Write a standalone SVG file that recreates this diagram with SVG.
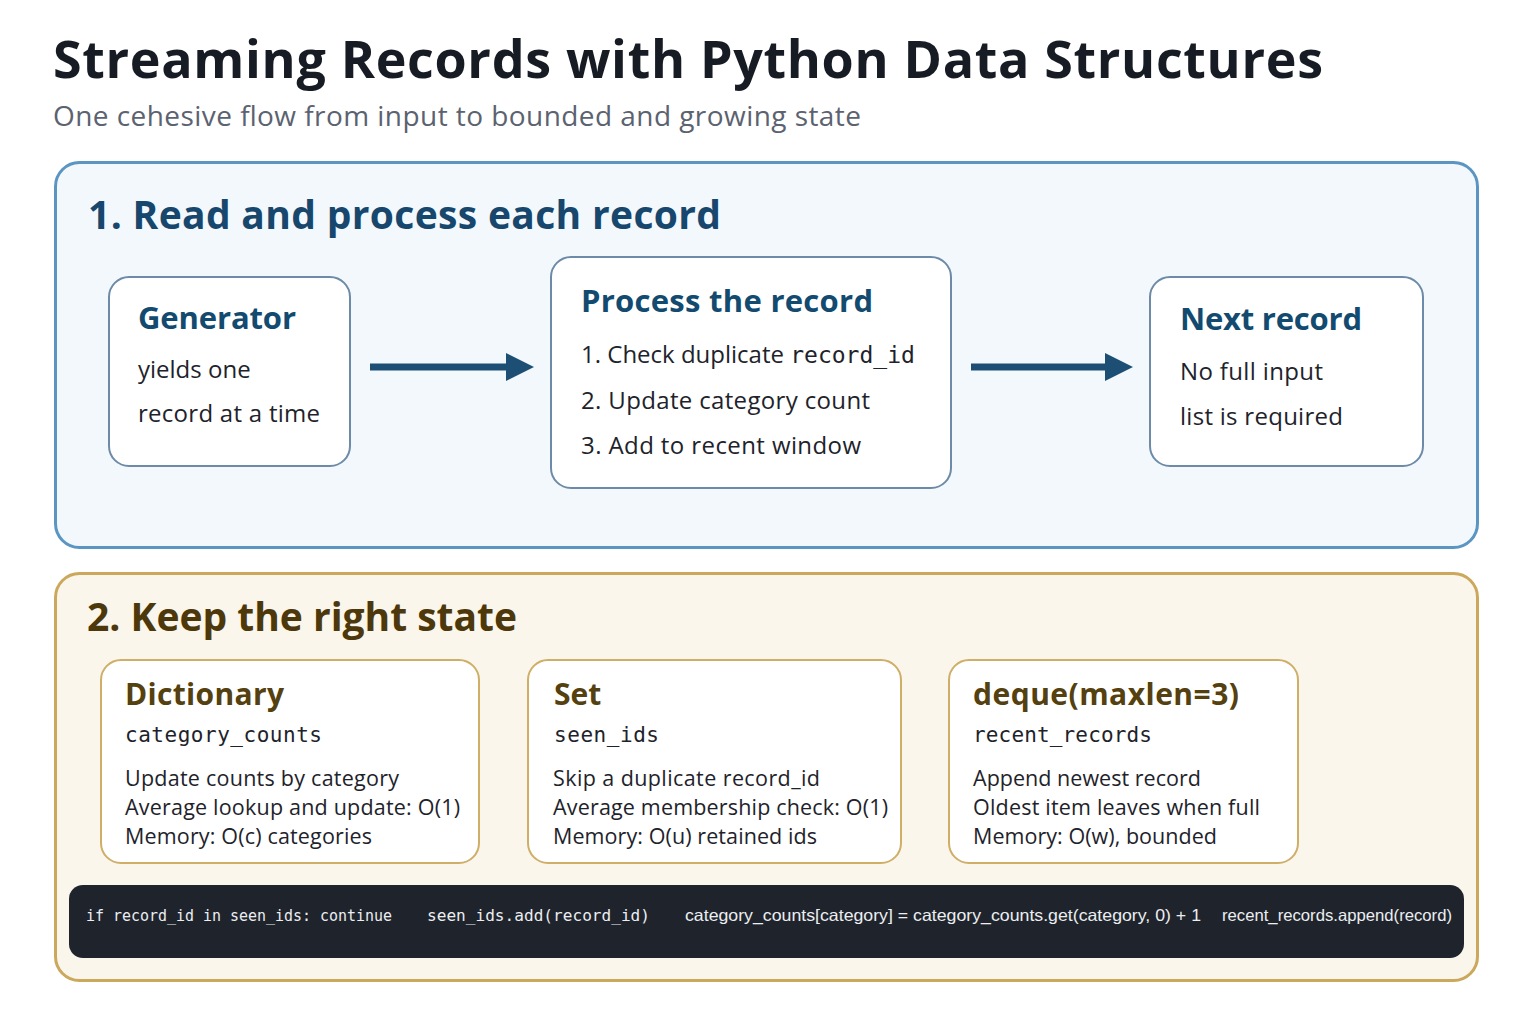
<svg xmlns="http://www.w3.org/2000/svg" width="1536" height="1024" viewBox="0 0 1536 1024">
<defs>
<style>
.sans{font-family:"Open Sans","Noto Sans","DejaVu Sans",sans-serif}
.mono{font-family:"DejaVu Sans Mono","Liberation Mono",monospace}
.cond{font-family:"Liberation Sans","Arial",sans-serif}
.title{font-size:52px;font-weight:700;fill:#161b24}
.sub{font-size:28px;fill:#5b6270}
.panel1{fill:#f2f8fb;stroke:#5b96c3;stroke-width:3}
.panel2{fill:#faf6ec;stroke:#cba85c;stroke-width:3}
.h1{font-size:39px;font-weight:700;fill:#17476d}
.h2{font-size:39px;font-weight:700;fill:#4d380b}
.box1{fill:#ffffff;stroke:#6d8ba8;stroke-width:2}
.box2{fill:#ffffff;stroke:#cfae68;stroke-width:2}
.bt1{font-size:31px;font-weight:700;fill:#124a70}
.bt2{font-size:30px;font-weight:700;fill:#55400f}
.body{font-size:24px;fill:#1e232b}
.small{font-size:21.5px;fill:#1e232b}
.code{font-size:21px;fill:#1e232b}
.code2{font-size:23px}
.bar{fill:#1f242c}
.ct{font-size:16.5px;fill:#eceef1}
</style>
</defs>
<rect width="1536" height="1024" fill="#ffffff"/>
<text class="sans title" x="53" y="78" textLength="1270">Streaming Records with Python Data Structures</text>
<text class="sans sub" x="53" y="126" textLength="808">One cehesive flow from input to bounded and growing state</text>

<g id="panel-read">
<rect class="panel1" x="55.5" y="162.5" width="1422" height="385" rx="24"/>
<text class="sans h1" x="88" y="229" textLength="633">1. Read and process each record</text>
</g>

<g id="node-generator">
<rect class="box1" x="109" y="277" width="241" height="189" rx="20"/>
<text class="sans bt1" x="138" y="329" textLength="158">Generator</text>
<text class="sans body" x="138" y="378">yields one</text>
<text class="sans body" x="138" y="422" textLength="182">record at a time</text>
</g>

<g id="node-process">
<rect class="box1" x="551" y="257" width="400" height="231" rx="20"/>
<text class="sans bt1" x="581" y="312" textLength="292">Process the record</text>
<text class="sans body" x="581" y="363">1. Check duplicate <tspan class="mono code2">record_id</tspan></text>
<text class="sans body" x="581" y="409" textLength="289">2. Update category count</text>
<text class="sans body" x="581" y="454" textLength="280">3. Add to recent window</text>
</g>

<g id="node-next">
<rect class="box1" x="1150" y="277" width="273" height="189" rx="20"/>
<text class="sans bt1" x="1180" y="330" textLength="182">Next record</text>
<text class="sans body" x="1180" y="380" textLength="143">No full input</text>
<text class="sans body" x="1180" y="425" textLength="163">list is required</text>
</g>

<g id="connectors">
<path d="M370,367 H510" stroke="#1d4f74" stroke-width="7" fill="none"/>
<path d="M506,353 L534,367 L506,381 Z" fill="#1d4f74"/>
<path d="M971,367 H1109" stroke="#1d4f74" stroke-width="7" fill="none"/>
<path d="M1105,353 L1133,367 L1105,381 Z" fill="#1d4f74"/>
</g>

<g id="panel-state">
<rect class="panel2" x="55.5" y="573.5" width="1422" height="407" rx="24"/>
<text class="sans h2" x="87" y="631" textLength="430">2. Keep the right state</text>
</g>

<g id="node-dictionary">
<rect class="box2" x="101" y="660" width="378" height="203" rx="20"/>
<text class="sans bt2" x="125" y="705" textLength="159">Dictionary</text>
<text class="mono code" x="125" y="742" textLength="197">category_counts</text>
<text class="sans small" x="125" y="786" textLength="274">Update counts by category</text>
<text class="sans small" x="125" y="815" textLength="335">Average lookup and update: O(1)</text>
<text class="sans small" x="125" y="844" textLength="247">Memory: O(c) categories</text>
</g>

<g id="node-set">
<rect class="box2" x="528" y="660" width="373" height="203" rx="20"/>
<text class="sans bt2" x="554" y="705">Set</text>
<text class="mono code" x="554" y="742" textLength="105">seen_ids</text>
<text class="sans small" x="553" y="786" textLength="267">Skip a duplicate record_id</text>
<text class="sans small" x="553" y="815" textLength="335">Average membership check: O(1)</text>
<text class="sans small" x="553" y="844" textLength="264">Memory: O(u) retained ids</text>
</g>

<g id="node-deque">
<rect class="box2" x="949" y="660" width="349" height="203" rx="20"/>
<text class="sans bt2" x="973" y="705" textLength="266">deque(maxlen=3)</text>
<text class="mono code" x="973" y="742" textLength="179">recent_records</text>
<text class="sans small" x="973" y="786" textLength="228">Append newest record</text>
<text class="sans small" x="973" y="815" textLength="287">Oldest item leaves when full</text>
<text class="sans small" x="973" y="844" textLength="244">Memory: O(w), bounded</text>
</g>

<g id="code-bar">
<rect class="bar" x="69" y="885" width="1395" height="73" rx="14"/>
<text class="mono ct" x="86" y="921" textLength="306" lengthAdjust="spacingAndGlyphs">if record_id in seen_ids: continue</text>
<text class="mono ct" x="427" y="921" textLength="223" lengthAdjust="spacingAndGlyphs">seen_ids.add(record_id)</text>
<text class="cond ct" x="685" y="921" textLength="516" lengthAdjust="spacingAndGlyphs">category_counts[category] = category_counts.get(category, 0) + 1</text>
<text class="cond ct" x="1222" y="921" textLength="230" lengthAdjust="spacingAndGlyphs">recent_records.append(record)</text>
</g>
</svg>
